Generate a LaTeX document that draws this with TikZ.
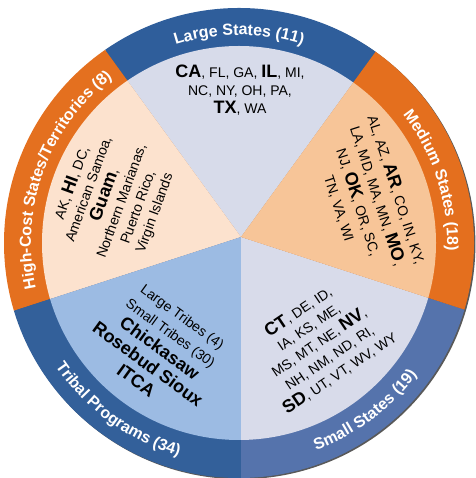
\documentclass[tikz,border=0pt]{standalone}
\usepackage{fontspec}
\setmainfont{Liberation Sans}
\usetikzlibrary{decorations.text}

% segment colours: ring band / inner wedge
\definecolor{largeRing}{HTML}{2F5E9B}
\definecolor{largeFill}{HTML}{D7DBEA}
\definecolor{medRing}{HTML}{E46F1E}
\definecolor{medFill}{HTML}{F7C598}
\definecolor{smallRing}{HTML}{5573AC}
\definecolor{smallFill}{HTML}{D8DBEA}
\definecolor{tribeRing}{HTML}{33609A}
\definecolor{tribeFill}{HTML}{9CBBE3}
\definecolor{costRing}{HTML}{E4701F}
\definecolor{costFill}{HTML}{FCE2CE}

\newcommand\ringfont{\bfseries\fontsize{16}{16}\selectfont\color{white}}
\newcommand\bst[1]{{\fontsize{18}{19}\selectfont\bfseries #1}}

\tikzset{
  ringlabel/.style={decorate, decoration={text along path, text align=center,
      text={|\ringfont|#1}}},
  wedgetext/.style={align=center, inner sep=0pt, text=black,
      font=\fontsize{14}{#1}\selectfont},
}

\begin{document}
\begin{tikzpicture}[x=1pt,y=1pt]
\useasboundingbox (0,0) rectangle (475,478);
\coordinate (V) at (241,241);   % common vertex of the wedges
\coordinate (C) at (239,235);   % centre of the outer ring

% soft edge and outline
\fill[black!65] ([shift={(1.4,-1.2)}]C) circle[radius=235];

% outer ring bands
\begin{scope}
  \clip (C) circle[radius=235];
  \foreach \a/\col in {54/largeRing,126/costRing,198/tribeRing,270/smallRing,342/medRing}
    \fill[\col] (V) -- ++(\a:460) arc[start angle=\a, end angle=\a+72, radius=460] -- cycle;
\end{scope}

% inner wedges
\begin{scope}
  \clip (C) circle[radius=197];
  \foreach \a/\col in {54/largeFill,126/costFill,198/tribeFill,270/smallFill,342/medFill}
    \fill[\col] (V) -- ++(\a:460) arc[start angle=\a, end angle=\a+72, radius=460] -- cycle;
\end{scope}

% band titles
\path[ringlabel={Large States (11)}]
  ([shift={(150:208)}]C) arc[start angle=150, end angle=30, radius=208];
\path[ringlabel={Medium States (18)}]
  ([shift={(78:208)}]C) arc[start angle=78, end angle=-42, radius=208];
\path[ringlabel={High-Cost States/Territories (8)}]
  ([shift={(235:208)}]C) arc[start angle=235, end angle=85, radius=208];
\path[ringlabel={Small States (19)}]
  ([shift={(-113:221)}]C) arc[start angle=-113, end angle=7, radius=221];
\path[ringlabel={Tribal Programs (34)}]
  ([shift={(174:221)}]C) arc[start angle=174, end angle=294, radius=221];

% wedge contents
\node[wedgetext=18.3] (large) at (240,388)
  {\bst{CA}, FL, GA, \bst{IL}, MI,\\ NC, NY, OH, PA,\\ \bst{TX}, WA};
\node[wedgetext=20, rotate=-72] (medium) at (368,279)
  {AL, AZ, \bst{AR}, CO, IN, KY,\\ LA, MD, MA, MN, \bst{MO},\\ NJ, \bst{OK}, OR, SC,\\ TN, VA, WI};
\node[wedgetext=18.5, rotate=34] (small) at (319,136)
  {\bst{CT}, DE, ID,\\ IA, KS, ME,\\ MS, MT, NE, \bst{NV},\\ NH, NM, ND, RI,\\ \bst{SD}, UT, VT, WV, WY};
\node[wedgetext=20, rotate=-36] (tribal) at (159,129)
  {Large Tribes (4)\\ Small Tribes (30)\\ \bst{Chickasaw}\\ \bst{Rosebud Sioux}\\ \bst{ITCA}};
\node[wedgetext=17.5, rotate=70] (highcost) at (113,280)
  {AK, \bst{HI}, DC,\\ American Samoa,\\ \bst{Guam},\\ Northern Marianas,\\ Puerto Rico,\\ Virgin Islands};
\end{tikzpicture}
\end{document}
